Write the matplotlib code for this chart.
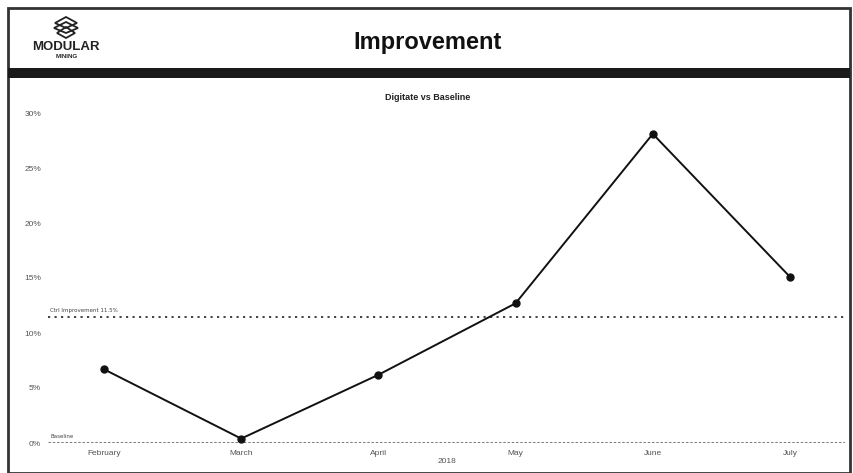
import numpy as np
import matplotlib.pyplot as plt
from matplotlib.patches import Rectangle, Polygon

# monthly improvement, digitate vs baseline (%)
months = ["February", "March", "April", "May", "June", "July"]
improvement = [6.7, 0.4, 6.2, 12.7, 28.1, 15.1]
ctrl_improvement = 11.5
baseline = 0.0
yticks = [0, 5, 10, 15, 20, 25, 30]

W, H = 854, 473
fig = plt.figure(figsize=(W / 100, H / 100), dpi=100)
fig.patch.set_facecolor("white")

def fx(px):
    return px / W

def fy(py):
    return 1 - py / H

narrow = ["Liberation Sans Narrow", "Liberation Sans", "DejaVu Sans"]

# outer frame and header band
fig.patches.append(Rectangle((fx(8), fy(473)), fx(842), fy(8) - fy(473), transform=fig.transFigure,
                             fill=False, edgecolor="#333333", lw=2))
fig.patches.append(Rectangle((fx(8), fy(78)), fx(842), fy(68) - fy(78), transform=fig.transFigure,
                             facecolor="#1a1a1a", edgecolor="none"))
fig.text(fx(428), fy(42), "Improvement", ha="center", va="center", fontsize=17,
         fontweight="bold", family=narrow, color="#111111")

# logo
for dy, w in [(0, 11), (5, 12), (10, 9)]:
    cx, cy = 66, 20 + dy
    fig.patches.append(Polygon([(fx(cx - w), fy(cy + 3)), (fx(cx), fy(cy - 3)),
                                (fx(cx + w), fy(cy + 3)), (fx(cx), fy(cy + 8))],
                               closed=True, transform=fig.transFigure, fill=False,
                               edgecolor="#222222", lw=1.3))
fig.text(fx(66), fy(47), "MODULAR", ha="center", va="center", fontsize=9.5,
         fontweight="bold", family=["Liberation Sans", "DejaVu Sans"], color="#222222")
fig.text(fx(67), fy(57), "MINING", ha="center", va="center", fontsize=4.5,
         fontweight="bold", family=["Liberation Sans", "DejaVu Sans"], color="#222222")

# chart area
ax = fig.add_axes([fx(48), fy(443), fx(845) - fx(48), fy(105) - fy(443)])
x = np.arange(len(months))
ax.set_xlim(-(104 - 48) / 137.2, 5 + (845 - 790) / 137.2)
ax.set_ylim(0, 30 + 8 / 11)

ax.axhline(baseline, color="#555555", lw=1.8, linestyle=(0, (1, 0.7)), zorder=1)
ax.axhline(ctrl_improvement, color="#333333", lw=1.3, linestyle=(0, (1.2, 2.4)), zorder=1)
ax.text(0.003, ctrl_improvement + 0.35, f"Ctrl Improvement {ctrl_improvement:.1f}%",
        transform=ax.get_yaxis_transform(), fontsize=4, color="#444444", va="bottom")
ax.text(0.003, baseline + 0.35, "Baseline", transform=ax.get_yaxis_transform(),
        fontsize=4, color="#444444", va="bottom")

ax.plot(x, improvement, color="#111111", lw=1.4, marker="o", markersize=5, zorder=3)

ax.set_xticks(x)
ax.set_xticklabels(months, fontsize=6, color="#555555", family=narrow)
ax.set_yticks(yticks)
ax.set_yticklabels([f"{v}%" for v in yticks], fontsize=6, color="#555555", family=narrow)
ax.tick_params(length=0, pad=5)
for s in ax.spines.values():
    s.set_visible(False)
ax.set_xlabel("2018", fontsize=6, color="#555555", labelpad=1, family=narrow)

fig.text(fx(428), fy(98), "Digitate vs Baseline", ha="center", va="center", fontsize=6.5,
         fontweight="bold", color="#222222", family=["Liberation Sans", "DejaVu Sans"])

fig.savefig("out.png", dpi=100)
